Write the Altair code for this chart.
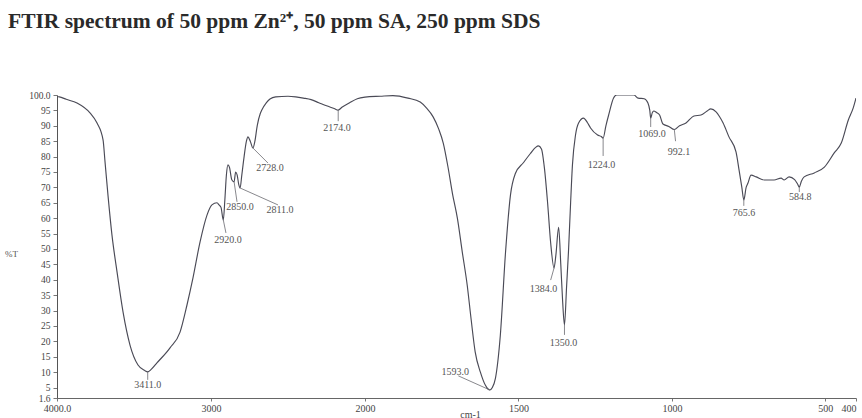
import altair as alt
import pandas as pd

# ---- spectrum (wavenumber cm-1, %T) ----
wavenumber = [4000, 3985, 3940, 3870, 3786, 3740, 3701, 3688, 3669, 3643, 3610, 3571, 3526, 3474, 3430,
              3411, 3390, 3351, 3266, 3201, 3156, 3117, 3071, 3026, 2994, 2961, 2948, 2935, 2920, 2910,
              2900, 2890, 2880, 2865, 2850, 2840, 2830, 2820, 2811, 2800, 2785, 2770, 2760, 2745, 2728,
              2715, 2700, 2680, 2670, 2640, 2617, 2580, 2500, 2450, 2400, 2350, 2300, 2250, 2200, 2174,
              2150, 2100, 2050, 2000, 1950, 1909, 1860, 1820, 1800, 1778, 1760, 1745, 1729, 1715, 1699,
              1683, 1667, 1654, 1641, 1624, 1608, 1600, 1593, 1585, 1575, 1559, 1542, 1526, 1510, 1484,
              1461, 1444, 1435, 1425, 1415, 1405, 1395, 1384, 1378, 1369, 1362, 1356, 1350, 1343, 1337,
              1330, 1324, 1314, 1304, 1288, 1275, 1265, 1242, 1230, 1224, 1215, 1206, 1190, 1180, 1124,
              1110, 1090, 1078, 1072, 1069, 1064, 1059, 1050, 1040, 1029, 1010, 992.1, 975, 954, 928,
              905, 885, 873, 856, 845, 833, 814, 791, 781, 772, 765.6, 758, 752, 742, 725,
              699, 667, 644, 634, 618, 600, 590, 584.8, 578, 569, 536, 503, 471, 448, 425,
              409, 400]
transmittance = [99.5, 99.4, 98.6, 97.4, 94.2, 90.9, 85.4, 78.2, 67.5, 54.5, 42.5, 29.5, 18.8, 12.3, 10.5,
                 10.1, 10.8, 13.0, 17.9, 23.0, 31.8, 40.6, 52.3, 61.0, 64.3, 65.0, 64.3, 63.5, 59.4, 66.0,
                 74.0, 77.3, 76.5, 72.5, 71.8, 75.0, 74.0, 71.0, 69.8, 74.0, 80.0, 85.0, 86.4, 85.0, 82.8,
                 85.0, 90.0, 94.0, 95.1, 97.5, 98.7, 99.4, 99.6, 99.4, 99.0, 98.5, 97.5, 96.5, 95.6, 95.1,
                 96.0, 97.5, 98.8, 99.3, 99.6, 99.8, 99.0, 97.7, 95.8, 92.9, 89.0, 84.4, 76.3, 68.0, 60.0,
                 49.0, 38.3, 27.0, 16.6, 10.0, 5.8, 4.6, 4.2, 5.0, 8.0, 22.0, 49.0, 67.5, 74.5, 78.0,
                 81.0, 83.0, 83.5, 82.5, 76.0, 65.0, 52.0, 43.8, 48.0, 57.0, 45.0, 33.0, 25.3, 38.0, 49.0,
                 65.0, 77.3, 87.0, 90.9, 92.5, 91.0, 89.3, 87.0, 86.5, 86.0, 90.0, 93.5, 99.0, 100.0, 100.0,
                 99.0, 98.8, 97.4, 95.0, 92.5, 94.2, 94.8, 94.3, 93.5, 90.6, 89.8, 88.8, 90.0, 90.9, 93.2,
                 93.5, 94.8, 95.5, 94.5, 93.0, 90.9, 86.4, 81.5, 75.6, 70.0, 65.9, 70.0, 71.4, 74.0, 73.4,
                 72.4, 72.4, 73.0, 72.4, 73.4, 72.5, 71.0, 70.1, 72.0, 73.4, 74.7, 76.6, 81.2, 84.4, 91.9,
                 95.8, 99.0]

# ---- peak annotations ----
peak_labels = ["3411.0", "2920.0", "2850.0", "2811.0", "2728.0", "2174.0", "1593.0",
               "1384.0", "1350.0", "1224.0", "1069.0", "992.1", "765.6", "584.8"]
peak_wn = [3411, 2920, 2850, 2811, 2728, 2174, 1593, 1384, 1350, 1224, 1069, 992.1, 765.6, 584.8]
peak_T = [10.1, 59.4, 71.8, 69.8, 82.8, 95.1, 4.2, 43.8, 25.3, 86.0, 92.5, 88.8, 65.9, 70.1]
label_wn = [3411, 2890, 2812, 2552, 2617, 2182, 1706, 1418, 1353, 1229, 1065, 977, 765, 582]
label_T = [5.8, 52.9, 63.6, 62.7, 76.3, 89.3, 10.1, 37.0, 19.5, 77.3, 87.3, 81.5, 61.7, 66.9]
leader_wn = [3411, 2903, 2831, 2565, 2630, 2174, 1696, 1395, 1350, 1224, 1069, 988, 765.6, 584.8]
leader_T = [7.5, 55.2, 65.3, 64.3, 77.9, 91.5, 8.8, 39.9, 22.1, 80.2, 89.6, 85.0, 64.0, 68.5]

# ---- axes ----
x_ticks = [4000, 3000, 2000, 1500, 1000, 500, 400]
y_ticks = [1.6, 5, 10, 15, 20, 25, 30, 35, 40, 45, 50, 55, 60, 65, 70, 75, 80, 85, 90, 95, 100]

spec = pd.DataFrame({"wn": wavenumber, "T": transmittance})
ann = pd.DataFrame({"label": peak_labels, "pwn": peak_wn, "pT": peak_T,
                    "lwn": label_wn, "lT": label_T, "ewn": leader_wn, "eT": leader_T})

serif = "Liberation Serif"
xs = alt.Scale(domain=[4000, 2000, 400], range=[0, 308, 799], nice=False, zero=False)
ys = alt.Scale(domain=[1.6, 100], nice=False, zero=False)

x_axis = alt.Axis(values=x_ticks, grid=False, title="cm-1",
                  labelExpr="datum.value == 4000 ? '4000.0' : format(datum.value, 'd')",
                  labelAlign={"condition": {"test": "datum.value == 400", "value": "right"}, "value": "center"},
                  labelOverlap=False, labelFont=serif, labelFontSize=10, labelColor="#444",
                  tickSize=3, tickColor="#777", domainColor="#666", labelPadding=2,
                  titleFont=serif, titleFontSize=10, titleFontWeight="normal", titleColor="#444",
                  titleX=413, titleY=16, titleBaseline="middle", titleAlign="center")
y_axis = alt.Axis(values=y_ticks, grid=False, title="%T",
                  labelExpr="datum.value == 100 ? '100.0' : datum.value == 1.6 ? '1.6' : format(datum.value, 'd')",
                  labelOverlap=False, labelFont=serif, labelFontSize=9.5, labelColor="#444",
                  tickSize=4, tickColor="#777", domainColor="#555", labelPadding=3,
                  titleFont=serif, titleFontSize=9, titleFontWeight="normal", titleColor="#555",
                  titleAngle=0, titleX=-46, titleY=158, titleAlign="center", titleBaseline="middle")

line = alt.Chart(spec).mark_line(color="#4a4a56", strokeWidth=1.15, clip=True,
                                 interpolate="monotone").encode(
    x=alt.X("wn:Q", scale=xs, axis=x_axis),
    y=alt.Y("T:Q", scale=ys, axis=y_axis),
)
leaders = alt.Chart(ann).mark_rule(color="#6a6a70", strokeWidth=0.8).encode(
    x=alt.X("pwn:Q", scale=xs, axis=x_axis), y=alt.Y("pT:Q", scale=ys, axis=y_axis),
    x2="ewn:Q", y2="eT:Q",
)
labels = alt.Chart(ann).mark_text(font=serif, fontSize=10, color="#555", align="center",
                                   baseline="middle").encode(
    x=alt.X("lwn:Q", scale=xs, axis=x_axis), y=alt.Y("lT:Q", scale=ys, axis=y_axis), text="label:N",
)

chart = alt.layer(line, leaders, labels).properties(
    width=799, height=303,
    background="white",
    autosize=alt.AutoSizeParams(type="none"),
    padding={"left": 57, "top": 95, "right": 6, "bottom": 20},
    title=alt.TitleParams(text="FTIR spectrum of 50 ppm Zn²⁺, 50 ppm SA, 250 ppm SDS",
                          anchor="start", frame="group", dx=-49, offset=58,
                          font=serif, fontSize=21.5, fontWeight="bold", color="#2a2a2a"),
).configure_view(strokeWidth=0)

chart.save("out.html", embed_options={"renderer": "svg", "actions": False})
